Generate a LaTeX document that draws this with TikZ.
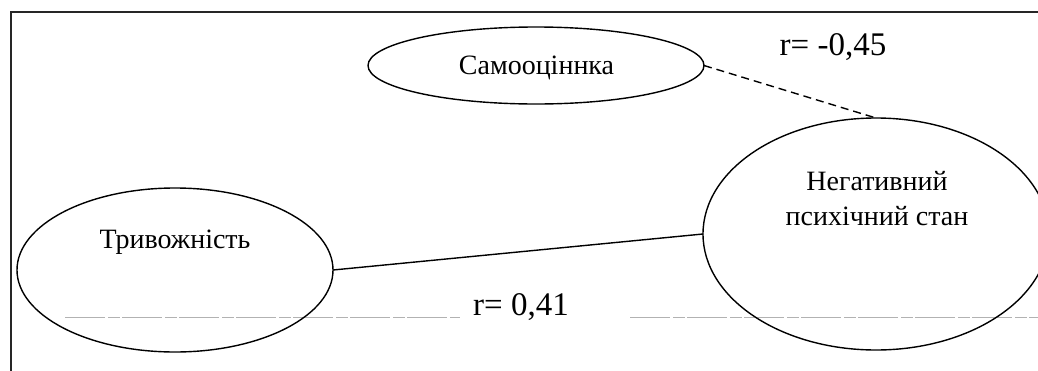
\documentclass[tikz,border=0pt]{standalone}
\usepackage{fontspec}
\setmainfont{Liberation Serif}
\usetikzlibrary{shapes.geometric}
\begin{document}
\begin{tikzpicture}[x=1pt,y=-1pt,
  ell/.style={draw, ellipse, line width=1.4pt, inner sep=0pt, outer sep=0pt},
  lbl/.style={inner sep=0pt, anchor=base, font=\fontsize{28}{33}\selectfont},
  rlbl/.style={inner sep=0pt, anchor=base, font=\fontsize{33}{39}\selectfont},
  conn/.style={line width=1.4pt},
  dconn/.style={line width=1.4pt, dash pattern=on 8pt off 5pt},
  frame/.style={line width=1.8pt, black!85},
  faint/.style={line width=0.9pt, black!30, dash pattern=on 40pt off 3pt on 12pt off 2pt}]
\clip (0,0) rectangle (1038,370);
\fill[white] (0,0) rectangle (1038,370);
\draw[frame] (11,372) -- (11,12) -- (1040,12);
\draw[faint] (65,317) -- (460,317);
\draw[faint] (630,317) -- (1040,317);
\node[ell, minimum width=336pt, minimum height=77pt] (sam) at (536,65.5) {};
\node[ell, minimum width=316pt, minimum height=164pt] (triv) at (175,270) {};
\node[ell, minimum width=346pt, minimum height=232pt] (neg) at (876,234) {};
\node[lbl] (samtxt) at (536.5,74) {Самооціннка};
\node[lbl] (trivtxt) at (175,248) {Тривожність};
\node[lbl] (neg1) at (877,190) {Негативний};
\node[lbl] (neg2) at (877,225) {психічний стан};
\node[rlbl] (r1) at (833,55) {r= -0,45};
\node[rlbl] (r2) at (521,315) {r= 0,41};
\draw[conn] (triv.east) -- (neg.west);
\draw[dconn] (sam.east) -- (neg.north);
\end{tikzpicture}
\end{document}
